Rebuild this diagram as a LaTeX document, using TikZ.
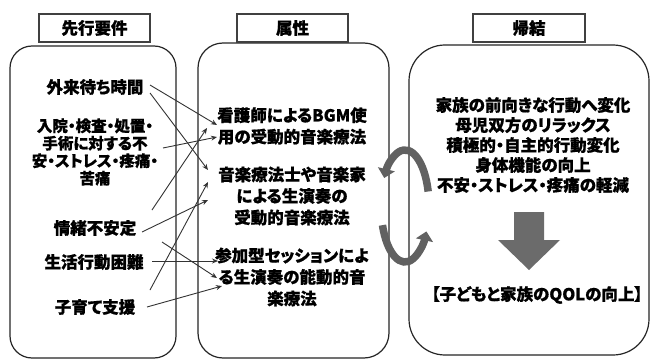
\documentclass[tikz,border=0pt]{standalone}
\usepackage{fontspec}
\setmainfont{Noto Sans CJK JP}[RawFeature=+palt, BoldFeatures={FakeBold=0.8}]
\usetikzlibrary{arrows.meta,calc}
\begin{document}
\begin{tikzpicture}[x=1pt,y=-1pt,
  ltext/.style={font=\fontsize{16.5}{17.5}\selectfont\bfseries, align=center, inner sep=0pt},
  lmtext/.style={font=\fontsize{15.5}{17.5}\selectfont\bfseries, align=center, inner sep=0pt},
  mtext/.style={font=\fontsize{16.5}{21.5}\selectfont\bfseries, align=center, inner sep=0pt},
  rtext/.style={font=\fontsize{16.5}{20}\selectfont\bfseries, align=center, inner sep=0pt},
  titlebox/.style={draw=black!75, line width=1.1pt, minimum height=28pt, inner sep=0pt, font=\fontsize{16.5}{18}\selectfont\bfseries},
  panel/.style={draw=black!85, line width=1.2pt, inner sep=0pt},
  conn/.style={draw=black!80, line width=0.9pt, -{Stealth[length=6pt,width=5pt]}},
  cyc/.style={draw=black!62, line width=7.5pt, -{Triangle[width=17pt,length=9pt]}},
  blockarrow/.style={fill=black!58}
]
\useasboundingbox (0,0) rectangle (651,361);
\fill[white] (0,0) rectangle (651,361);

% panels
\node[panel, rounded corners=22pt, minimum width=166pt, minimum height=312pt] (p1) at (93,202) {};
\node[panel, rounded corners=25pt, minimum width=191pt, minimum height=315pt] (p2) at (293.5,200.5) {};
\node[panel, rounded corners=36pt, minimum width=240pt, minimum height=310pt] (p3) at (529,200) {};

% titles
\node[titlebox, minimum width=111pt] (t1) at (94.5,28) {先行要件};
\node[titlebox, minimum width=111pt] (t2) at (292.5,28) {属性};
\node[titlebox, minimum width=112pt] (t3) at (529,28) {帰結};

% left texts
\node[ltext] (gaira) at (95,87) {外来待ち時間};
\node[lmtext] (nyuin) at (95,152) {入院・検査・処置・\\手術に対する不\\安・ストレス・疼痛・\\苦痛};
\node[ltext] (jocho) at (95,228) {情緒不安定};
\node[ltext] (seikatsu) at (94,262) {生活行動困難};
\node[ltext] (kosodate) at (95,307) {子育て支援};

% middle texts
\node[mtext] (bgm) at (292,126) {看護師によるBGM使\\用の受動的音楽療法};
\node[mtext] (ongaku) at (292,196) {音楽療法士や音楽家\\による生演奏の\\受動的音楽療法};
\node[mtext] (sanka) at (292,277) {参加型セッションによ\\る生演奏の能動的音\\楽療法};

% right texts
\node[rtext] (kekka) at (533,145) {家族の前向きな行動へ変化\\母児双方のリラックス\\積極的・自主的行動変化\\身体機能の向上\\不安・ストレス・疼痛の軽減};
\node[rtext] (qol) at (537,295) {【子どもと家族のQOLの向上】};

% block arrow
\fill[blockarrow] (514,212) -- (544,212) -- (544,240) -- (560,240) -- (529,270) -- (498,240) -- (514,240) -- cycle;

% cycle arrows
\draw[cyc] (405,206) ++(-15:24 and 56) arc[start angle=-15, end angle=-150, x radius=24, y radius=56];
\draw[cyc] (405,206) ++(160:24 and 56) arc[start angle=160, end angle=27, x radius=24, y radius=56];

% connectors
\draw[conn] ($(gaira.center)+(55,-2)$) -- ($(bgm.center)+(-75,-1)$);
\draw[conn] ($(gaira.center)+(55,6)$) -- ($(ongaku.center)+(-84,-26)$);
\draw[conn] ($(nyuin.center)+(68,-4)$) -- ($(bgm.center)+(-75,11)$);
\draw[conn] ($(jocho.center)+(57,-18)$) -- ($(bgm.center)+(-85,2)$);
\draw[conn] ($(jocho.center)+(47,4)$) -- ($(ongaku.center)+(-84,4)$);
\draw[conn] ($(jocho.center)+(67,14)$) -- ($(sanka.center)+(-75,1)$);
\draw[conn] ($(seikatsu.center)+(58,-1)$) -- ($(sanka.center)+(-74,-16)$);
\draw[conn] ($(kosodate.center)+(52,0)$) -- ($(sanka.center)+(-70,9)$);
\draw[conn] ($(kosodate.center)+(55,-17)$) -- ($(ongaku.center)+(-84,-14)$);
\end{tikzpicture}
\end{document}
